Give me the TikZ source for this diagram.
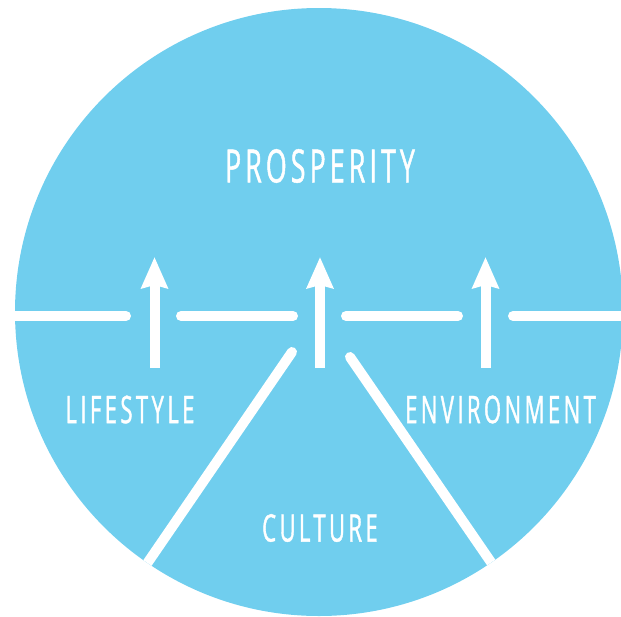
\documentclass[tikz,border=0pt]{standalone}
\usepackage{fontspec}
\usetikzlibrary{arrows.meta,calc}
\newfontfamily\discfont[FakeStretch=0.58,LetterSpace=9,FakeBold=1]{Open Sans}
\definecolor{discblue}{RGB}{112,206,238}
\tikzset{bar/.style={draw=white,line width=10pt,line cap=round},
         uparrow/.style={draw=white,line width=10pt,
           -{Stealth[length=31pt,width=26pt,inset=3pt]}},
         wordlabel/.style={text=white,inner sep=0pt,font=\discfont\fontsize{38}{38}\selectfont}}

\begin{document}
\begin{tikzpicture}[x=1pt,y=-1pt]
  \useasboundingbox (0,0) rectangle (621,616);
  \coordinate (O) at (319,312);
  \fill[discblue] (O) circle (304);

  \begin{scope}
    \clip (O) circle (304);
    % horizontal band with gaps
    \draw[bar] (-10,316) -- (126,316);
    \draw[bar] (181,316) -- (293,316);
    \draw[bar] (346,316) -- (458,316);
    \draw[bar] (513,316) -- (640,316);
    % the two slanted lines
    \coordinate (lt) at (292,352);
    \coordinate (rt) at (350,357);
    \draw[bar] (lt) -- ($(lt)!1.3!(144,568)$);
    \draw[bar] (rt) -- ($(rt)!1.3!(495,568)$);
  \end{scope}

  \foreach \Name/\x in {life/154.5,cult/320,env/485.5} {%
    \coordinate (\Name base) at (\x,368);
    \coordinate (\Name tip) at (\x,257);
    \draw[uparrow,line cap=butt] (\Name base) -- (\Name tip);
  }

  \node[wordlabel,font=\discfont\fontsize{46}{46}\selectfont] (pros) at (320,166) {PROSPERITY};
  \node[wordlabel] (life) at (130,409.5) {LIFESTYLE};
  \node[wordlabel] (env) at (500.5,409.5) {ENVIRONMENT};
  \node[wordlabel] (cult) at (320,528) {CULTURE};
\end{tikzpicture}
\end{document}
